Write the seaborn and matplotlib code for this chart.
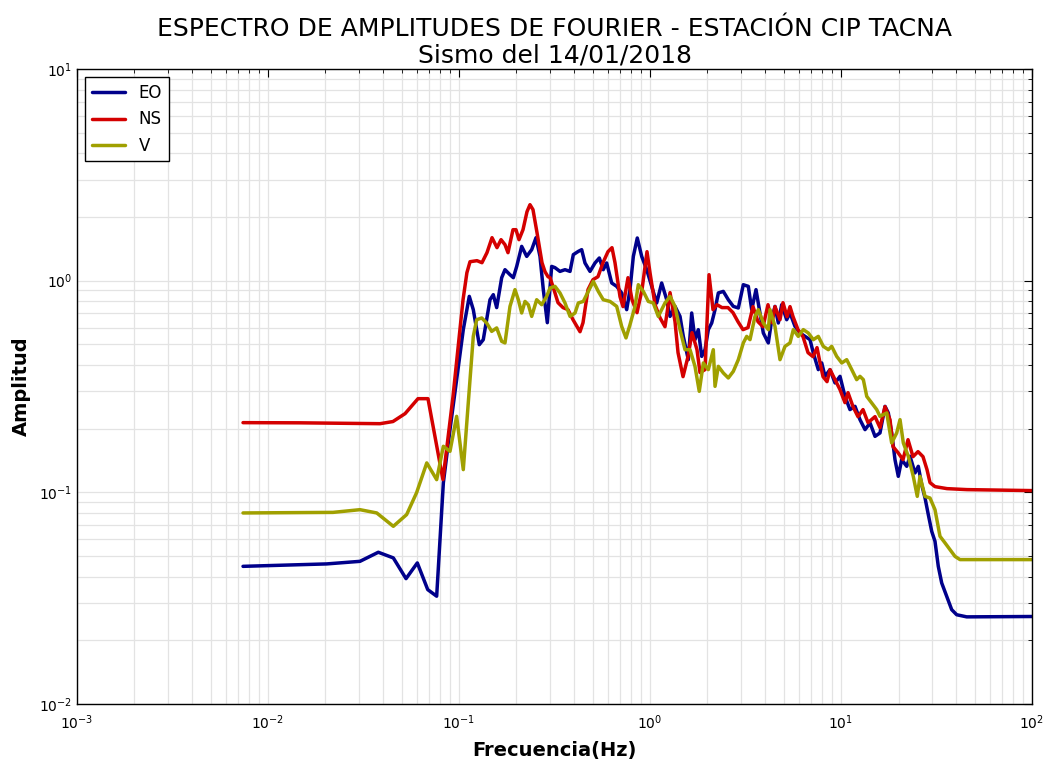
import pandas as pd
import seaborn as sns
import matplotlib.pyplot as plt

# espectro de Fourier - estacion CIP TACNA, sismo 14/01/2018
# valores (frecuencia Hz, amplitud)

eo_freq = [0.0074, 0.0203, 0.0303, 0.0378, 0.0453, 0.0528, 0.0605, 0.0686, 0.0764, 0.0828,
           0.0897, 0.1053, 0.1132, 0.1188, 0.1277, 0.134, 0.1453, 0.1512, 0.1575, 0.1673,
           0.1741, 0.1849, 0.1925, 0.2005, 0.2129, 0.2262, 0.2402, 0.253, 0.2655, 0.2763,
           0.29, 0.3056, 0.3181, 0.3378, 0.3589, 0.3813, 0.3967, 0.4213, 0.4388, 0.4567,
           0.4852, 0.5152, 0.5428, 0.5691, 0.5932, 0.6302, 0.6693, 0.7107, 0.7551, 0.7857,
           0.8179, 0.8579, 0.9048, 0.961, 1.021, 1.084, 1.151, 1.223, 1.273, 1.352,
           1.436, 1.494, 1.587, 1.653, 1.72, 1.79, 1.865, 1.941, 2.02, 2.104,
           2.19, 2.279, 2.42, 2.57, 2.73, 2.9, 3.08, 3.271, 3.408, 3.589,
           3.766, 3.92, 4.163, 4.338, 4.512, 4.696, 4.892, 5.196, 5.408, 5.743,
           6.099, 6.479, 6.881, 7.161, 7.606, 7.925, 8.248, 8.759, 9.303, 9.881,
           10.49, 11.14, 11.84, 12.57, 13.36, 14.19, 15.07, 16.0, 17.0, 17.69,
           18.42, 19.17, 19.95, 20.79, 22.08, 22.98, 24.4, 25.39, 26.46, 27.54,
           28.65, 29.85, 31.05, 32.31, 33.67, 35.76, 37.98, 40.34, 45.51, 100.0]
eo_amp = [0.0447, 0.0459, 0.0472, 0.0521, 0.049, 0.0391, 0.0464, 0.0347, 0.0323, 0.1108,
          0.1978, 0.587, 0.843, 0.7295, 0.4984, 0.5263, 0.813, 0.8587, 0.746, 1.033,
          1.127, 1.067, 1.033, 1.168, 1.452, 1.302, 1.401, 1.596, 1.302, 0.907,
          0.633, 1.168, 1.152, 1.106, 1.127, 1.106, 1.327, 1.375, 1.401, 1.212,
          1.106, 1.212, 1.28, 1.127, 1.212, 0.975, 0.94, 0.875, 0.7295, 0.907,
          1.302, 1.591, 1.302, 1.127, 0.94, 0.7845, 0.975, 0.813, 0.678, 0.756,
          0.678, 0.5455, 0.4234, 0.7036, 0.5263, 0.587, 0.4388, 0.472, 0.587, 0.631,
          0.7295, 0.875, 0.89, 0.813, 0.756, 0.743, 0.957, 0.94, 0.7295, 0.907,
          0.7036, 0.566, 0.508, 0.654, 0.756, 0.631, 0.77, 0.654, 0.7036, 0.608,
          0.566, 0.5455, 0.5263, 0.4556, 0.38, 0.4086, 0.3531, 0.38, 0.3287, 0.3531,
          0.284, 0.246, 0.2548, 0.2205, 0.1978, 0.2127, 0.1838, 0.1908, 0.2548, 0.2372,
          0.1908, 0.1427, 0.119, 0.1427, 0.1327, 0.148, 0.1235, 0.1327, 0.1086, 0.094,
          0.0784, 0.0654, 0.0587, 0.0447, 0.0373, 0.0323, 0.0279, 0.0264, 0.0258, 0.0259]

ns_freq = [0.0074, 0.01471, 0.02382, 0.0386, 0.0451, 0.0522, 0.061, 0.0688, 0.0824, 0.093,
           0.105, 0.11, 0.1142, 0.1242, 0.1319, 0.1401, 0.1489, 0.1581, 0.166, 0.1741,
           0.1805, 0.1917, 0.1988, 0.2061, 0.2163, 0.227, 0.2353, 0.244, 0.2561, 0.272,
           0.2819, 0.2924, 0.2996, 0.3106, 0.3299, 0.3504, 0.3721, 0.3953, 0.4301, 0.4459,
           0.4736, 0.5029, 0.5341, 0.5673, 0.6026, 0.6324, 0.6557, 0.6966, 0.7222, 0.767,
           0.805, 0.8551, 0.9081, 0.9645, 1.0, 1.062, 1.128, 1.198, 1.273, 1.352,
           1.402, 1.489, 1.581, 1.659, 1.762, 1.827, 1.941, 2.037, 2.137, 2.243,
           2.382, 2.561, 2.72, 2.888, 3.068, 3.259, 3.462, 3.677, 3.905, 4.148,
           4.352, 4.512, 4.793, 4.969, 5.215, 5.408, 5.608, 5.955, 6.324, 6.719,
           7.136, 7.489, 7.762, 8.051, 8.448, 8.759, 9.303, 9.881, 10.49, 10.88,
           11.56, 12.27, 13.04, 13.85, 15.07, 16.0, 17.0, 18.05, 18.72, 19.88,
           21.12, 22.43, 23.82, 25.3, 26.87, 28.2, 29.24, 31.05, 35.89, 45.68, 100.0]
ns_amp = [0.2134, 0.213, 0.212, 0.211, 0.216, 0.2354, 0.277, 0.277, 0.1148, 0.283,
          0.813, 1.091, 1.229, 1.243, 1.216, 1.356, 1.596, 1.432, 1.562, 1.479,
          1.356, 1.741, 1.741, 1.562, 1.741, 2.118, 2.286, 2.165, 1.686, 1.216,
          1.103, 1.044, 1.033, 0.937, 0.787, 0.746, 0.7295, 0.654, 0.574, 0.633,
          0.907, 1.011, 1.044, 1.216, 1.371, 1.432, 1.216, 0.84, 0.754, 1.033,
          0.813, 0.706, 0.907, 1.371, 1.091, 0.77, 0.668, 0.606, 0.878, 0.64,
          0.457, 0.352, 0.4375, 0.568, 0.472, 0.368, 0.38, 1.067, 0.7295, 0.77,
          0.746, 0.746, 0.706, 0.64, 0.587, 0.6, 0.754, 0.64, 0.606, 0.77,
          0.633, 0.754, 0.654, 0.787, 0.676, 0.754, 0.676, 0.587, 0.544, 0.457,
          0.4375, 0.4827, 0.41, 0.352, 0.3334, 0.38, 0.3407, 0.3055, 0.2653, 0.2958,
          0.254, 0.2278, 0.246, 0.2134, 0.2278, 0.202, 0.254, 0.2205, 0.1644, 0.154,
          0.1427, 0.1773, 0.1474, 0.1557, 0.1474, 0.128, 0.1111, 0.1064, 0.1041, 0.103, 0.1019]

v_freq = [0.0074, 0.02189, 0.0303, 0.0371, 0.0453, 0.0532, 0.06, 0.0678, 0.0764, 0.0828,
          0.0897, 0.0972, 0.1053, 0.1142, 0.1188, 0.1238, 0.1315, 0.1396, 0.1483, 0.1575,
          0.1673, 0.1741, 0.1849, 0.1964, 0.2044, 0.2129, 0.2216, 0.2306, 0.2402, 0.2551,
          0.271, 0.2878, 0.2996, 0.3181, 0.3378, 0.3589, 0.3813, 0.405, 0.4213, 0.4475,
          0.4753, 0.5048, 0.5362, 0.5691, 0.6173, 0.6693, 0.7107, 0.7487, 0.7857, 0.8346,
          0.8686, 0.9225, 0.9797, 1.04, 1.105, 1.198, 1.273, 1.352, 1.436, 1.525,
          1.62, 1.72, 1.811, 1.902, 2.02, 2.145, 2.19, 2.279, 2.42, 2.57,
          2.73, 2.9, 3.08, 3.208, 3.339, 3.546, 3.69, 3.92, 4.163, 4.25,
          4.512, 4.793, 5.091, 5.408, 5.628, 5.976, 6.348, 6.743, 7.161, 7.606,
          8.079, 8.581, 8.94, 9.495, 10.09, 10.71, 11.38, 12.08, 12.57, 13.09,
          13.64, 14.48, 15.38, 16.0, 17.35, 18.42, 19.57, 20.37, 21.2, 22.51,
          23.9, 25.08, 25.91, 27.54, 29.24, 31.05, 32.98, 35.03, 37.21, 39.53, 41.98, 100.0]
v_amp = [0.0799, 0.0804, 0.0828, 0.0799, 0.0691, 0.0785, 0.0997, 0.1377, 0.1148, 0.165,
         0.1562, 0.2286, 0.128, 0.3407, 0.5455, 0.654, 0.6665, 0.631, 0.576, 0.598,
         0.5167, 0.508, 0.756, 0.907, 0.813, 0.7036, 0.798, 0.77, 0.678, 0.813,
         0.77, 0.843, 0.924, 0.94, 0.875, 0.7845, 0.678, 0.7036, 0.7845, 0.798,
         0.89, 0.992, 0.89, 0.813, 0.798, 0.756, 0.608, 0.5364, 0.6195, 0.756,
         0.957, 0.89, 0.798, 0.7845, 0.678, 0.7845, 0.843, 0.756, 0.587, 0.472,
         0.472, 0.3937, 0.3, 0.4086, 0.38, 0.472, 0.3167, 0.3937, 0.3664, 0.347,
         0.3728, 0.4234, 0.508, 0.5455, 0.5263, 0.678, 0.7295, 0.631, 0.587, 0.7295,
         0.608, 0.4234, 0.4894, 0.508, 0.587, 0.5455, 0.587, 0.566, 0.5263, 0.5455,
         0.4894, 0.472, 0.4894, 0.4388, 0.4086, 0.4234, 0.38, 0.3407, 0.3531, 0.3407,
         0.284, 0.2644, 0.246, 0.2286, 0.2372, 0.1711, 0.1908, 0.2205, 0.1711, 0.148,
         0.119, 0.0957, 0.119, 0.0957, 0.094, 0.0828, 0.062, 0.0577, 0.0536, 0.0498, 0.0481, 0.0481]

componentes = ['EO', 'NS', 'V']
colores = ['#00008b', '#d40000', '#a0a000']

df = pd.concat([
    pd.DataFrame({'freq': eo_freq, 'amp': eo_amp, 'comp': 'EO'}),
    pd.DataFrame({'freq': ns_freq, 'amp': ns_amp, 'comp': 'NS'}),
    pd.DataFrame({'freq': v_freq, 'amp': v_amp, 'comp': 'V'}),
])

sns.set_style('white')
plt.rcParams['font.family'] = ['DejaVu Sans']
plt.rcParams['text.color'] = 'black'
plt.rcParams['axes.labelcolor'] = 'black'
plt.rcParams['xtick.color'] = 'black'
plt.rcParams['ytick.color'] = 'black'

fig = plt.figure(figsize=(10.49, 7.6), dpi=100)
ax = fig.add_axes([0.0734, 0.0737, 0.9104, 0.8355])

sns.lineplot(data=df, x='freq', y='amp', hue='comp', hue_order=componentes,
             palette=colores, estimator=None, sort=False, linewidth=2.5, ax=ax)

ax.set_xscale('log')
ax.set_yscale('log')
ax.set_xlim(1e-3, 1e2)
ax.set_ylim(1e-2, 1e1)

ax.grid(True, which='both', color='#e3e3e3', linestyle='-', linewidth=0.9)
ax.set_axisbelow(True)
ax.tick_params(which='both', direction='in', top=True, right=True, labelsize=10)
ax.tick_params(which='major', length=6)
ax.tick_params(which='minor', length=3)
ax.tick_params(axis='x', which='major', pad=7)
for s in ax.spines.values():
    s.set_color('black')
    s.set_linewidth(1.0)

ax.set_title('ESPECTRO DE AMPLITUDES DE FOURIER - ESTACIÓN CIP TACNA\nSismo del 14/01/2018',
             fontsize=18, linespacing=1.1, pad=5, color='black')
ax.set_xlabel('Frecuencia(Hz)', fontsize=14, fontweight='bold', labelpad=6)
ax.set_ylabel('Amplitud', fontsize=14, fontweight='bold', labelpad=6)

leg = ax.legend(loc='upper left', fontsize=12, frameon=True, fancybox=False,
                handlelength=2.0, borderpad=0.4, labelspacing=0.5)
leg.get_frame().set_edgecolor('black')
leg.get_frame().set_linewidth(1.0)
leg.get_frame().set_alpha(1)

plt.savefig('out.png', dpi=100)
